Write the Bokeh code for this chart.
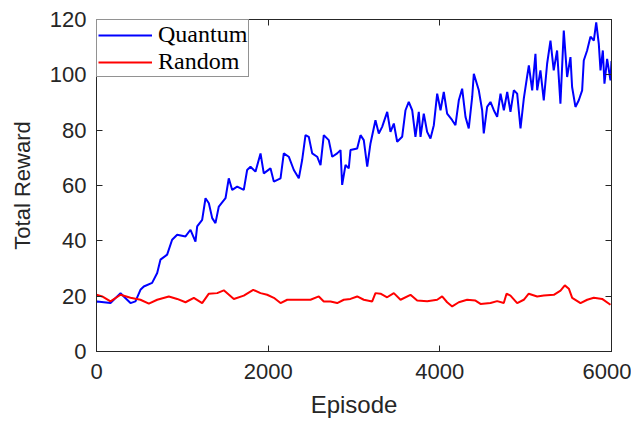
from bokeh.plotting import figure
from bokeh.models import Range1d, LinearAxis, FixedTicker, Legend, LegendItem
from bokeh.embed import file_html
from bokeh.resources import INLINE

# ---- data ----
quantum_ep = [0, 8, 163, 280, 318, 396, 454, 512, 551, 648, 707, 745, 823, 881, 940, 1037, 1095, 1153,
              1173, 1231, 1270, 1309, 1348, 1386, 1425, 1503, 1541, 1581, 1639, 1716, 1755, 1794, 1852,
              1911, 1949, 2027, 2066, 2144, 2182, 2240, 2299, 2357, 2396, 2435, 2473, 2513, 2571, 2610,
              2648, 2706, 2746, 2804, 2843, 2862, 2901, 2939, 2959, 3037, 3076, 3114, 3154, 3192, 3250,
              3289, 3328, 3387, 3425, 3464, 3503, 3561, 3600, 3638, 3678, 3716, 3755, 3775, 3813, 3852,
              3891, 3930, 3969, 4008, 4046, 4085, 4144, 4182, 4221, 4260, 4299, 4337, 4377, 4396, 4454,
              4493, 4512, 4551, 4590, 4629, 4668, 4707, 4746, 4785, 4823, 4862, 4901, 4940, 4979, 5017,
              5037, 5076, 5114, 5134, 5172, 5211, 5250, 5289, 5327, 5366, 5405, 5444, 5483, 5522, 5541,
              5580, 5619, 5658, 5677, 5716, 5755, 5794, 5822, 5852, 5872, 5899, 5918, 5949, 5988, 6000]
quantum_val = [18.0, 18.1, 17.5, 21.1, 19.9, 17.5, 18.1, 22.3, 23.5, 24.8, 28.4, 33.2, 35.0, 40.4, 42.2,
               41.6, 44.0, 39.7, 45.2, 47.6, 55.4, 53.6, 48.2, 46.4, 52.4, 55.4, 62.6, 58.4, 59.6, 58.4,
               65.6, 66.8, 65.0, 71.6, 64.4, 66.2, 61.4, 62.6, 71.6, 70.4, 65.6, 62.6, 69.2, 78.2, 77.6,
               71.6, 70.4, 67.4, 78.2, 76.4, 70.4, 71.6, 72.8, 60.2, 67.4, 66.2, 72.8, 73.4, 78.2, 76.4,
               66.8, 75.2, 83.6, 78.8, 81.2, 86.6, 79.4, 82.4, 75.8, 77.6, 87.2, 90.2, 87.2, 77.6, 86.6,
               77.6, 86.0, 79.4, 77.0, 81.8, 93.2, 87.2, 93.8, 86.0, 83.6, 81.8, 90.8, 95.0, 84.8, 80.6,
               92.0, 100.4, 94.4, 87.2, 78.8, 88.4, 90.2, 87.2, 84.8, 93.2, 87.2, 93.8, 86.6, 94.4, 93.2,
               80.6, 91.6, 99.4, 103.4, 94.4, 107.6, 94.4, 101.6, 90.8, 104.0, 112.4, 101.6, 108.8, 89.6,
               116.0, 99.2, 106.4, 95.6, 88.4, 90.8, 94.4, 105.2, 108.8, 113.8, 112.4, 119.0, 111.2, 101.6,
               108.8, 96.8, 105.8, 98.0, 105.0]

random_ep = [0, 66, 163, 280, 396, 512, 610, 707, 843, 940, 1037, 1134, 1231, 1309, 1406, 1483, 1600,
             1716, 1826, 1911, 1988, 2066, 2144, 2222, 2377, 2493, 2590, 2648, 2726, 2804, 2881, 2959,
             3037, 3114, 3212, 3250, 3309, 3386, 3464, 3542, 3658, 3736, 3853, 3969, 4027, 4085, 4144,
             4221, 4318, 4415, 4474, 4590, 4668, 4745, 4777, 4823, 4901, 4978, 5036, 5134, 5211, 5328,
             5406, 5456, 5503, 5542, 5639, 5717, 5794, 5891, 5988]
random_val = [20.5, 19.9, 18.1, 20.5, 19.4, 18.7, 17.3, 18.7, 19.9, 19.0, 17.8, 19.4, 17.5, 20.9, 21.1,
              22.1, 19.0, 20.2, 22.3, 21.1, 20.5, 19.4, 17.5, 18.7, 18.7, 18.7, 19.9, 18.1, 18.1, 17.5,
              18.7, 19.0, 19.9, 18.7, 18.1, 21.1, 20.9, 19.6, 21.1, 18.7, 20.5, 18.4, 18.2, 18.7, 19.9,
              17.8, 16.3, 17.8, 18.7, 18.4, 17.2, 17.5, 18.2, 17.5, 20.9, 20.2, 17.5, 18.7, 20.9, 19.9,
              20.2, 20.5, 22.0, 23.9, 22.7, 19.4, 17.5, 18.7, 19.4, 19.0, 16.9]

x_ticks = [0, 2000, 4000, 6000]
y_ticks = [0, 20, 40, 60, 80, 100, 120]

AX = "#262626"

p = figure(width=631, height=426, output_backend="svg", toolbar_location=None,
           x_range=Range1d(0, 6000), y_range=Range1d(0, 120),
           min_border_left=96, min_border_right=20, min_border_top=19, min_border_bottom=75)
p.outline_line_color = AX
p.outline_line_width = 1
p.xgrid.visible = False
p.ygrid.visible = False
p.background_fill_color = "white"
p.border_fill_color = "white"

lq = p.line(quantum_ep, quantum_val, line_color="#0000FF", line_width=2)
lr = p.line(random_ep, random_val, line_color="#FF0000", line_width=2)

def style_axis(ax, show_labels=True, size="22px"):
    ax.axis_line_color = AX
    ax.major_tick_line_color = AX
    ax.major_tick_in = 6
    ax.major_tick_out = 0
    ax.minor_tick_line_color = None
    ax.major_label_text_font = "Liberation Sans"
    ax.major_label_text_font_size = size
    ax.major_label_text_color = AX if show_labels else None
    ax.axis_label_text_font = "Liberation Sans"
    ax.axis_label_text_font_style = "normal"
    ax.axis_label_text_color = AX

p.xaxis.ticker = FixedTicker(ticks=x_ticks)
p.yaxis.ticker = FixedTicker(ticks=y_ticks)
for ax in p.xaxis:
    style_axis(ax)
    ax.major_label_standoff = 12
    ax.axis_label = "Episode"
    ax.axis_label_text_font_size = "24px"
    ax.axis_label_standoff = 9
for ax in p.yaxis:
    style_axis(ax)
    ax.major_label_standoff = 10
    ax.axis_label = "Total Reward"
    ax.axis_label_text_font_size = "22px"
    ax.axis_label_standoff = 12

top = LinearAxis(ticker=FixedTicker(ticks=x_ticks))
style_axis(top, show_labels=False, size="1px")
top.major_label_standoff = 0
p.add_layout(top, "above")
right = LinearAxis(ticker=FixedTicker(ticks=y_ticks))
style_axis(right, show_labels=False, size="1px")
right.major_label_standoff = 0
p.add_layout(right, "right")

legend = Legend(items=[LegendItem(label="Quantum", renderers=[lq]),
                       LegendItem(label="Random", renderers=[lr])],
                location="top_left", margin=0, padding=1, spacing=0,
                glyph_width=54, glyph_height=20, label_height=20, label_standoff=6,
                label_text_font="Liberation Serif", label_text_font_size="24px",
                label_text_color="black", border_line_color=AX, border_line_width=1,
                background_fill_color="white", background_fill_alpha=1.0)
p.add_layout(legend, "center")

open("out.html", "w").write(file_html(p, INLINE))
